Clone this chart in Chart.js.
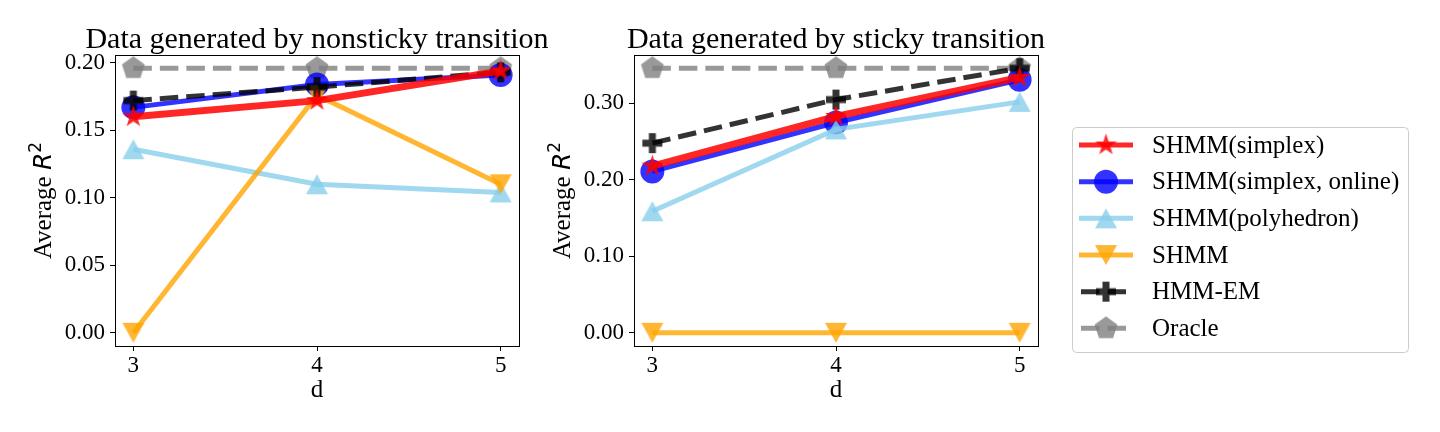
<!DOCTYPE html>
<html lang="en">
<head>
<meta charset="UTF-8">
<title>Average R² vs d</title>
<style>
  body { margin: 0; background: #fff; width: 1440px; height: 432px; position: relative; overflow: hidden; }
  canvas { position: absolute; top: 0; }
  #left { left: 0; }
  #right { left: 530px; }
</style>
</head>
<body>
<canvas id="left" width="560" height="432"></canvas>
<canvas id="right" width="910" height="432"></canvas>

<script src="https://cdn.jsdelivr.net/npm/chart.js"></script>
<script>
// x axis values (d)
const dValues = [3, 4, 5];

// series names, same order for both panels
const seriesNames = ['SHMM(simplex)', 'SHMM(simplex, online)', 'SHMM(polyhedron)', 'SHMM', 'HMM-EM', 'Oracle'];

// left panel: nonsticky transition
const nsSimplex = [0.160, 0.172, 0.194];
const nsOnline  = [0.167, 0.184, 0.191];
const nsPoly    = [0.136, 0.110, 0.104];
const nsShmm    = [0.000, 0.176, 0.110];
const nsHmmEm   = [0.172, 0.182, 0.193];
const nsOracle  = [0.196, 0.196, 0.196];

// right panel: sticky transition
const sSimplex = [0.218, 0.283, 0.334];
const sOnline  = [0.211, 0.275, 0.331];
const sPoly    = [0.159, 0.266, 0.302];
const sShmm    = [0.000, 0.000, 0.000];
const sHmmEm   = [0.248, 0.305, 0.346];
const sOracle  = [0.346, 0.346, 0.346];

// tick values
const xTicks = [3, 4, 5];
const nsYTicks = [0, 0.05, 0.10, 0.15, 0.20];
const sYTicks = [0, 0.10, 0.20, 0.30];

const SERIF = '"Liberation Serif", "Times New Roman", serif';

// custom marker images (matplotlib-like star, triangles, pentagon, filled plus)
function markerCanvas(size, draw) {
  const c = document.createElement('canvas');
  c.width = size; c.height = size;
  const g = c.getContext('2d');
  g.translate(size / 2, size / 2);
  draw(g);
  return c;
}
function starImg(r, color) {
  return markerCanvas(Math.ceil(2 * r + 4), g => {
    g.beginPath();
    for (let i = 0; i < 10; i++) {
      const rr = i % 2 ? r * 0.381966 : r;
      const a = -Math.PI / 2 + i * Math.PI / 5;
      g.lineTo(rr * Math.cos(a), rr * Math.sin(a));
    }
    g.closePath();
    g.fillStyle = color; g.fill();
  });
}
function triangleImg(w, h, color, down) {
  return markerCanvas(Math.ceil(Math.max(w, h) + 4), g => {
    const s = down ? -1 : 1;
    g.beginPath();
    g.moveTo(0, -s * h / 2);
    g.lineTo(w / 2, s * h / 2);
    g.lineTo(-w / 2, s * h / 2);
    g.closePath();
    g.fillStyle = color; g.fill();
  });
}
function pentagonImg(r, color) {
  return markerCanvas(Math.ceil(2 * r + 4), g => {
    g.beginPath();
    for (let i = 0; i < 5; i++) {
      const a = -Math.PI / 2 + i * 2 * Math.PI / 5;
      g.lineTo(r * Math.cos(a), r * Math.sin(a));
    }
    g.closePath();
    g.fillStyle = color; g.fill();
  });
}
function plusImg(s, arm, color) {
  return markerCanvas(Math.ceil(s + 4), g => {
    g.fillStyle = color;
    g.beginPath();
    g.rect(-arm / 2, -s / 2, arm, s);
    g.rect(-s / 2, -arm / 2, (s - arm) / 2, arm);
    g.rect(arm / 2, -arm / 2, (s - arm) / 2, arm);
    g.fill();
  });
}

const RED = 'rgba(255,0,0,0.85)';
const BLUE = 'rgba(0,0,255,0.8)';
const SKY = 'rgba(135,206,235,0.8)';
const ORANGE = 'rgba(255,165,0,0.8)';
const BLACK = 'rgba(0,0,0,0.8)';
const GRAY = 'rgba(128,128,128,0.8)';

const styles = [
  { color: RED,    marker: starImg(11.5, RED),                radius: 11, lw: 7, dash: [],        order: 0 },
  { color: BLUE,   marker: 'circle',                          radius: 12, lw: 5, dash: [],        order: 4 },
  { color: SKY,    marker: triangleImg(22, 20, SKY, false),   radius: 11, lw: 5, dash: [],        order: 3 },
  { color: ORANGE, marker: triangleImg(22, 20, ORANGE, true), radius: 11, lw: 5, dash: [],        order: 2 },
  { color: BLACK,  marker: plusImg(20, 7, BLACK),             radius: 10, lw: 5, dash: [18.5, 8], order: 1 },
  { color: GRAY,   marker: pentagonImg(12, GRAY),             radius: 12, lw: 5, dash: [18.5, 8], order: 5 }
];

function makeDatasets(seriesList) {
  return seriesList.map((vals, i) => {
    const st = styles[i];
    return {
      label: seriesNames[i],
      data: dValues.map((d, j) => ({ x: d, y: vals[j] })),
      borderColor: st.color,
      backgroundColor: st.color,
      borderWidth: st.lw,
      borderDash: st.dash,
      pointStyle: st.marker,
      pointRadius: st.radius,
      pointBackgroundColor: st.color,
      pointBorderWidth: 0,
      tension: 0,
      fill: false,
      clip: false,
      order: st.order
    };
  });
}

function yRange(seriesList) {
  const all = seriesList.flat();
  const lo = Math.min(...all), hi = Math.max(...all);
  const m = (hi - lo) * 0.05;
  return { min: lo - m, max: hi + m };
}

// frame, title and mixed-font y label
const decorPlugin = {
  id: 'decor',
  afterDraw(chart, args, opts) {
    const { ctx, chartArea: a } = chart;
    ctx.save();
    ctx.strokeStyle = '#000';
    ctx.lineWidth = 1;
    ctx.strokeRect(Math.floor(a.left) + 0.5, Math.floor(a.top) + 0.5,
      Math.round(a.right - a.left), Math.round(a.bottom - a.top));

    ctx.fillStyle = '#000';
    ctx.font = '30px ' + SERIF;
    ctx.textAlign = 'center';
    ctx.textBaseline = 'alphabetic';
    ctx.fillText(opts.title, (a.left + a.right) / 2, 48);

    // "Average R^2"
    const parts = [
      { t: 'Average ', f: '25px ' + SERIF, dy: 0 },
      { t: 'R', f: 'italic 25px "DejaVu Sans"', dy: 0 },
      { t: '2', f: '17px "DejaVu Sans"', dy: -10 }
    ];
    let w = 0;
    parts.forEach(p => { ctx.font = p.f; p.w = ctx.measureText(p.t).width; w += p.w; });
    ctx.translate(a.left - 64, (a.top + a.bottom) / 2);
    ctx.rotate(-Math.PI / 2);
    ctx.textAlign = 'left';
    let x = -w / 2;
    parts.forEach(p => { ctx.font = p.f; ctx.fillText(p.t, x, p.dy); x += p.w; });
    ctx.restore();
  }
};

// boxed legend drawn on the right panel
const legendPlugin = {
  id: 'boxLegend',
  afterDraw(chart) {
    const ctx = chart.ctx;
    const bx = 542.5, by = 127.5, bw = 336, bh = 225;
    ctx.save();
    ctx.beginPath();
    ctx.roundRect(bx, by, bw, bh, 4);
    ctx.fillStyle = 'rgba(255,255,255,0.8)';
    ctx.fill();
    ctx.strokeStyle = '#cccccc';
    ctx.lineWidth = 1;
    ctx.stroke();

    chart.data.datasets.forEach((ds, i) => {
      const y = 145 + i * 36.67;
      ctx.save();
      ctx.strokeStyle = ds.borderColor;
      ctx.lineWidth = Math.min(ds.borderWidth, 5);
      ctx.setLineDash(ds.borderDash);
      ctx.lineDashOffset = ds.borderDash.length ? -2 : 0;
      ctx.beginPath();
      ctx.moveTo(549, y);
      ctx.lineTo(603, y);
      ctx.stroke();
      ctx.restore();

      ctx.save();
      ctx.fillStyle = ds.pointBackgroundColor;
      Chart.helpers.drawPoint(ctx, {
        pointStyle: ds.pointStyle, rotation: 0,
        radius: ds.pointRadius, borderWidth: 0
      }, 576, y);
      ctx.restore();

      ctx.fillStyle = '#000';
      ctx.font = '25px ' + SERIF;
      ctx.textAlign = 'left';
      ctx.textBaseline = 'middle';
      ctx.fillText(ds.label, 622, y + 1);
    });
    ctx.restore();
  }
};

function makeChart(id, seriesList, yTicks, title, yWidth, padRight, extraPlugins) {
  const r = yRange(seriesList);
  return new Chart(document.getElementById(id), {
    type: 'line',
    data: { datasets: makeDatasets(seriesList) },
    options: {
      responsive: false,
      animation: false,
      layout: { padding: { top: 55, right: padRight, bottom: 0, left: 0 } },
      plugins: {
        legend: { display: false },
        tooltip: { enabled: false },
        decor: { title }
      },
      scales: {
        x: {
          type: 'linear',
          min: 2.9, max: 5.1,
          afterBuildTicks: s => { s.ticks = xTicks.map(v => ({ value: v })); },
          afterFit: s => { s.height = 86; },
          ticks: { color: '#000', font: { family: SERIF, size: 23 }, padding: 1, callback: v => String(v), maxRotation: 0 },
          grid: { drawOnChartArea: false, drawTicks: true, tickLength: 5, color: '#000', lineWidth: 1 },
          border: { display: false },
          title: { display: true, text: 'd', color: '#000', font: { family: SERIF, size: 25 }, padding: { top: 0, bottom: 27 } }
        },
        y: {
          type: 'linear',
          min: r.min, max: r.max,
          afterBuildTicks: s => { s.ticks = yTicks.map(v => ({ value: v })); },
          afterFit: s => { s.width = yWidth; },
          ticks: { color: '#000', font: { family: SERIF, size: 23 }, padding: 5, callback: v => v.toFixed(2) },
          grid: { drawOnChartArea: false, drawTicks: true, tickLength: 5, color: '#000', lineWidth: 1 },
          border: { display: false }
        }
      }
    },
    plugins: [decorPlugin].concat(extraPlugins)
  });
}

makeChart('left',
  [nsSimplex, nsOnline, nsPoly, nsShmm, nsHmmEm, nsOracle],
  nsYTicks, 'Data generated by nonsticky transition', 115, 41, []);

makeChart('right',
  [sSimplex, sOnline, sPoly, sShmm, sHmmEm, sOracle],
  sYTicks, 'Data generated by sticky transition', 104, 402, [legendPlugin]);
</script>
</body>
</html>
